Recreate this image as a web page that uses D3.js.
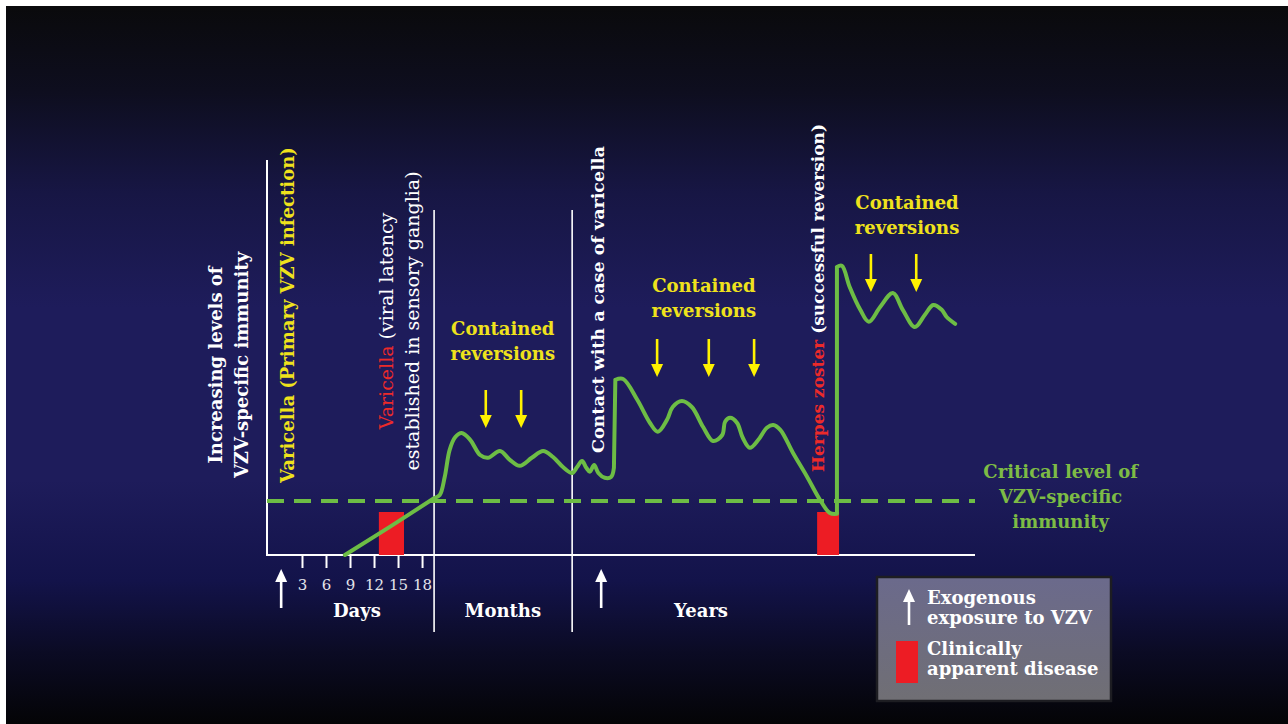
<!DOCTYPE html>
<html>
<head>
<meta charset="utf-8">
<script src="https://cdn.jsdelivr.net/npm/d3@7"></script>
<style>
  html, body { margin: 0; padding: 0; background: #fff; overflow: hidden; }
  text { font-family: "DejaVu Serif", "Liberation Serif", serif; }
</style>
</head>
<body>
<svg id="chart"></svg>
<script>
// timeline position (0-100 along the x axis) and immunity level (0-100)
const immunityCurve = [
  [11.0, 0], [17.4, 7.1], [23.7, 14.3], [24.4, 15.0], [25.1, 19.5], [25.8, 26.3],
  [26.6, 29.5], [27.5, 30.5], [28.7, 28.8], [30.1, 25.0], [31.2, 24.3], [32.9, 26.0],
  [34.3, 23.8], [35.7, 22.3], [37.4, 24.3], [39.0, 26.0], [40.4, 24.5], [41.8, 22.0],
  [43.1, 20.5], [43.8, 22.0], [44.5, 23.5], [45.1, 21.8], [45.6, 20.8], [46.2, 22.5],
  [46.8, 20.5], [47.7, 19.3], [48.6, 19.5], [49.0, 21.8], [49.2, 43.8], [50.3, 44.0],
  [52.3, 38.8], [54.1, 33.0], [55.2, 30.8], [56.5, 33.8], [57.3, 37.0], [58.6, 38.5],
  [60.0, 37.0], [61.6, 32.0], [63.0, 28.5], [64.3, 30.0], [64.7, 33.3], [65.4, 34.3],
  [66.4, 33.0], [67.2, 29.3], [68.2, 26.8], [69.4, 28.8], [70.6, 31.8], [71.5, 32.5],
  [72.5, 31.3], [74.3, 25.5], [76.3, 19.5], [78.1, 13.8], [79.5, 10.5], [80.5, 10.3],
  [80.5, 72.0], [81.2, 72.3], [82.3, 67.0], [83.8, 61.3], [85.0, 58.3], [86.6, 62.0],
  [88.4, 65.5], [89.8, 61.3], [91.5, 57.0], [92.9, 60.0], [94.1, 62.5], [95.3, 61.3],
  [96.0, 59.5], [97.2, 57.8]
];
// index ranges of the curve that are straight (initial rise and the two jumps)
const straightRuns = [[0, 2], [27, 28], [53, 54]];
const criticalLevel = 13.5;
const axisTopLevel = 98.75;

const dayTicks = [3, 6, 9, 12, 15, 18];
const dayRangeT = [1.55, 21.9];          // day 0 and day 18 on the timeline
const phaseLabels = ["Days", "Months", "Years"];
const phaseCentersT = [12.7, 33.3, 61.3];
const phaseDividersT = [23.6, 43.1];

const exposuresT = [2.0, 47.2];
const diseaseEpisodes = [[15.8, 19.35], [77.7, 80.8]];
const diseaseLevel = 10.75;

const reversionArrowsT = [[30.9, 35.9], [55.1, 62.4, 68.8], [85.3, 91.7]];
const reversionTipLevels = [31.75, 44.5, 65.75];
const reversionLabelT = [33.3, 61.7, 90.4];
const reversionLabelLevels = [48.75, 59.5, 80.25];

const eventLabels = [
  { t: 3.8, level: 18, anchor: "start", size: 18, lines: [
    [["Varicella (Primary VZV infection)", "#efe21c", "bold"]]
  ]},
  { t: 17.8, level: 58.5, anchor: "middle", size: 19, lines: [
    [["Varicella ", "#ec2a2a", "normal"], ["(viral latency", "#ffffff", "normal"]],
    [["established in sensory ganglia)", "#ffffff", "normal"]]
  ]},
  { t: 47.6, level: 25.5, anchor: "start", size: 17.5, lines: [
    [["Contact with a case of varicella", "#ffffff", "bold"]]
  ]},
  { t: 78.7, level: 20.75, anchor: "start", size: 17, lines: [
    [["Herpes zoster ", "#ec2a2a", "bold"], ["(successful reversion)", "#ffffff", "bold"]]
  ]}
];
const yTitleLines = ["Increasing levels of", "VZV-specific immunity"];
const criticalLabelLines = ["Critical level of", "VZV-specific", "immunity"];
const legendItems = ["Exogenous|exposure to VZV", "Clinically|apparent disease"];

const width = 1288, height = 724;
const GREEN = "#6dbd45", YELLOW = "#fff200", RED = "#ed1c24";

const svg = d3.select("#chart").attr("width", width).attr("height", height);

const defs = svg.append("defs");
const bg = defs.append("linearGradient").attr("id", "bg")
  .attr("x1", 0).attr("y1", 0).attr("x2", 0).attr("y2", 1);
[[0, "#0a0a0c"], [0.12, "#0e0e1f"], [0.26, "#171644"], [0.42, "#1e1c5b"],
 [0.66, "#1e1c5b"], [0.8, "#13134a"], [0.9, "#0b0b24"], [1, "#040406"]]
  .forEach(([o, c]) => bg.append("stop").attr("offset", o).attr("stop-color", c));
const lg = defs.append("linearGradient").attr("id", "lg")
  .attr("x1", 0).attr("y1", 0).attr("x2", 0).attr("y2", 1);
[[0, "#6b6a8c"], [1, "#706f74"]]
  .forEach(([o, c]) => lg.append("stop").attr("offset", o).attr("stop-color", c));

svg.append("rect").attr("x", 6).attr("y", 6).attr("width", width - 6).attr("height", height - 6)
  .attr("fill", "url(#bg)");

const x = d3.scaleLinear().domain([0, 100]).range([267, 975]);
const y = d3.scaleLinear().domain([0, 100]).range([555, 155]);
const xDay = d3.scaleLinear().domain([0, 18]).range(dayRangeT.map(x));

// axes
svg.append("line").attr("x1", x(0)).attr("x2", x(0)).attr("y1", y(0)).attr("y2", y(axisTopLevel))
  .attr("stroke", "#fff").attr("stroke-width", 2);
svg.append("line").attr("x1", x(0) - 1).attr("x2", x(100)).attr("y1", y(0)).attr("y2", y(0))
  .attr("stroke", "#fff").attr("stroke-width", 2);

svg.append("g").selectAll("line").data(phaseDividersT).join("line")
  .attr("x1", d => x(d)).attr("x2", d => x(d))
  .attr("y1", y(86.25)).attr("y2", y(0) + 77)
  .attr("stroke", "#fff").attr("stroke-width", 1.6);

const dayAxis = svg.append("g").attr("transform", `translate(0,${y(0)})`)
  .call(d3.axisBottom(xDay).tickValues(dayTicks).tickSize(13).tickPadding(8));
dayAxis.select(".domain").remove();
dayAxis.selectAll(".tick line").attr("stroke", "#fff").attr("stroke-width", 2);
dayAxis.selectAll(".tick text").attr("fill", "#e4e4ea").attr("font-size", 15)
  .attr("font-family", "DejaVu Serif, serif").attr("dy", "0.95em");

svg.append("g").selectAll("text").data(phaseLabels).join("text")
  .attr("x", (d, i) => x(phaseCentersT[i])).attr("y", y(0) + 62)
  .attr("text-anchor", "middle").attr("fill", "#fff")
  .attr("font-size", 18).attr("font-weight", "bold").text(d => d);

// critical level
svg.append("line").attr("x1", x(0)).attr("x2", x(100))
  .attr("y1", y(criticalLevel)).attr("y2", y(criticalLevel))
  .attr("stroke", GREEN).attr("stroke-width", 4).attr("stroke-dasharray", "17,10");

svg.append("g").selectAll("text").data(criticalLabelLines).join("text")
  .attr("x", x(112.1)).attr("y", (d, i) => y(criticalLevel) - 23 + i * 25)
  .attr("text-anchor", "middle").attr("fill", "#7dbb45")
  .attr("font-size", 18).attr("font-weight", "bold").text(d => d);

// disease episodes
svg.append("g").selectAll("rect").data(diseaseEpisodes).join("rect")
  .attr("x", d => x(d[0])).attr("width", d => x(d[1]) - x(d[0]))
  .attr("y", y(diseaseLevel)).attr("height", y(0) - y(diseaseLevel))
  .attr("fill", RED);

// immunity curve: smooth waves joined by straight runs
const smooth = d3.line().x(d => x(d[0])).y(d => y(d[1])).curve(d3.curveCatmullRom.alpha(0.5));
const straight = d3.line().x(d => x(d[0])).y(d => y(d[1]));
const ctx = d3.path();
let from = 0;
straightRuns.forEach(([a, b]) => {
  if (a > from) smooth.context(ctx)(immunityCurve.slice(from, a + 1));
  straight.context(ctx)(immunityCurve.slice(a, b + 1));
  from = b;
});
smooth.context(ctx)(immunityCurve.slice(from));
svg.append("path").attr("d", ctx.toString())
  .attr("fill", "none").attr("stroke", GREEN).attr("stroke-width", 4)
  .attr("stroke-linejoin", "round").attr("stroke-linecap", "round");

// arrows
function arrow(g, cx, tipY, dir, len, color) {
  const head = 13, half = 6;
  const baseY = tipY + dir * head;
  g.append("line").attr("x1", cx).attr("x2", cx).attr("y1", tipY + dir * len).attr("y2", baseY)
    .attr("stroke", color).attr("stroke-width", 2.6);
  g.append("path").attr("d", `M${cx},${tipY}L${cx - half},${baseY}L${cx + half},${baseY}Z`)
    .attr("fill", color);
}

const revG = svg.append("g");
reversionArrowsT.forEach((group, gi) => {
  group.forEach(t => arrow(revG, x(t), y(reversionTipLevels[gi]), -1, 38, YELLOW));
  const lx = x(reversionLabelT[gi]), ly = y(reversionLabelLevels[gi]);
  ["Contained", "reversions"].forEach((s, i) => {
    revG.append("text").attr("x", lx).attr("y", ly - 25 + i * 25)
      .attr("text-anchor", "middle").attr("fill", "#efe21c")
      .attr("font-size", 18).attr("font-weight", "bold").text(s);
  });
});

const expG = svg.append("g");
exposuresT.forEach(t => arrow(expG, x(t), y(0) + 14, 1, 39, "#fff"));

// rotated event labels
eventLabels.forEach(lab => {
  lab.lines.forEach((segs, li) => {
    const tx = svg.append("text")
      .attr("transform", `translate(${x(lab.t) + li * 26},${y(lab.level)}) rotate(-90)`)
      .attr("text-anchor", lab.anchor).attr("font-size", lab.size);
    segs.forEach(([s, c, w]) => tx.append("tspan").attr("fill", c).attr("font-weight", w).text(s));
  });
});

// y-axis title
svg.append("g").selectAll("text").data(yTitleLines).join("text")
  .attr("transform", (d, i) => `translate(${x(0) - 45 + i * 26},${y(47.5)}) rotate(-90)`)
  .attr("text-anchor", "middle").attr("fill", "#fff")
  .attr("font-size", 18).attr("font-weight", "bold").text(d => d);

// legend
const leg = svg.append("g").attr("transform", "translate(877,577)");
leg.append("rect").attr("width", 234).attr("height", 124)
  .attr("fill", "url(#lg)").attr("stroke", "#1d1d22").attr("stroke-width", 2.5);
arrow(leg, 32, 12, 1, 36, "#fff");
leg.append("rect").attr("x", 19).attr("y", 64).attr("width", 22).attr("height", 42).attr("fill", RED);
legendItems.forEach((item, i) => {
  item.split("|").forEach((s, j) => {
    leg.append("text").attr("x", 50).attr("y", 27 + i * 51 + j * 20)
      .attr("fill", "#fff").attr("font-size", 18).attr("font-weight", "bold").text(s);
  });
});
</script>
</body>
</html>
